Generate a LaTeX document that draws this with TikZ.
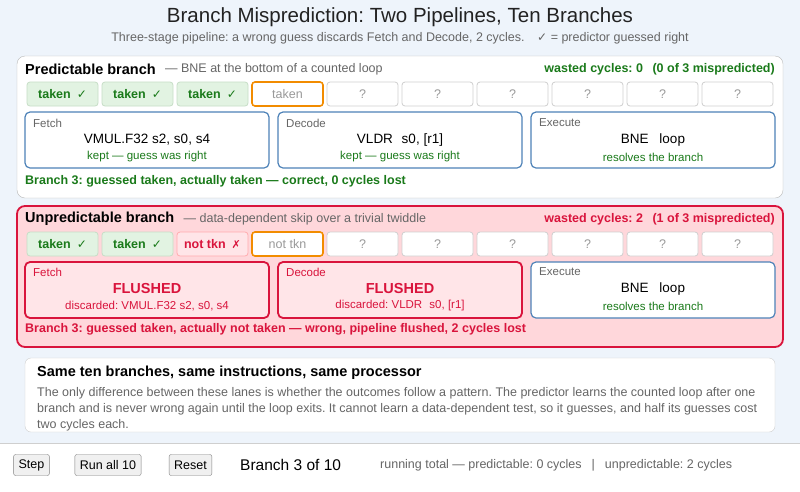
\documentclass[tikz,border=0pt]{standalone}
\usepackage{fontspec}
\setmainfont{Liberation Sans}
\newfontfamily\sym{DejaVu Sans}
\frenchspacing
\begin{document}
\definecolor{bg}{HTML}{EEF4FB}
\definecolor{okg}{HTML}{1A7A1A}
\definecolor{chipg}{HTML}{E2F3E2}
\definecolor{chipgb}{HTML}{C6DEC6}
\definecolor{grayb}{HTML}{CFCFCF}
\definecolor{panelb}{HTML}{B8B8B8}
\definecolor{grayt}{HTML}{999999}
\definecolor{orng}{HTML}{F28C00}
\definecolor{blueb}{HTML}{4D82B8}
\definecolor{redc}{HTML}{D9143C}
\definecolor{pinkp}{HTML}{FFD7DB}
\definecolor{pinkc}{HTML}{FFE5E8}
\definecolor{txt}{HTML}{222222}
\definecolor{sub}{HTML}{666666}
\def\fs#1{\fontsize{#1}{#1}\selectfont}
\def\ck{{\sym\fs{12}✓}}
\def\xk{{\sym\fs{11}✗}}
\begin{tikzpicture}[x=1pt,y=-1pt,
 chip/.style={draw=grayb,fill=white,rounded corners=3,minimum width=71,minimum height=24,inner sep=0,font=\fs{12.5},text=grayt,line width=0.8},
 gchip/.style={chip,draw=chipgb,fill=chipg,text=okg,font=\fs{12.5}\bfseries},
 rchip/.style={chip,draw=pinkp!80!red,fill=pinkc,text=redc,font=\fs{12.5}\bfseries},
 ochip/.style={chip,draw=orng,line width=1.6},
 stage/.style={draw=blueb,fill=white,rounded corners=5,minimum width=244,minimum height=56,inner sep=0,line width=1.2},
 fstage/.style={stage,draw=redc,fill=pinkc,line width=1.8},
 lab/.style={anchor=west,font=\fs{11.5},text=sub,inner sep=0},
 btn/.style={draw=gray,fill=black!6,rounded corners=2,minimum height=21,inner xsep=5,inner ysep=0,font=\fs{12.5}}]
\useasboundingbox (0,0) rectangle (800,491);
\fill[bg] (0,0) rectangle (800,491);
\fill[white] (0,443) rectangle (800,491);
\draw[grayb] (0,443) -- (800,443);
\node[font=\fs{20.5},text=txt] (title) at (400,17) {Branch Misprediction: Two Pipelines, Ten Branches};
\node[font=\fs{12.5},text=sub] (subt) at (400,38) {Three-stage pipeline: a wrong guess discards Fetch and Decode, 2 cycles.\quad \ck{} = predictor guessed right};
% panel 1
\draw[panelb,fill=white,rounded corners=8] (17,56) rectangle (783,198);
\node[anchor=west,inner sep=0,font=\fs{14.5}\bfseries,text=black] (h1) at (25,69) {Predictable branch};
\node[anchor=west,inner sep=0,font=\fs{12.5},text=sub] (h1b) at (h1.east) {\hspace{9pt}— BNE at the bottom of a counted loop};
\node[anchor=east,inner sep=0,font=\fs{12.5}\bfseries,text=okg] (w1) at (775,69) {wasted cycles: 0\hspace{6pt} (0 of 3 mispredicted)};
\foreach \i/\s/\t in {0/gchip/taken\hspace{6pt}\ck,1/gchip/taken\hspace{6pt}\ck,2/gchip/taken\hspace{6pt}\ck,3/ochip/taken,4/chip/?,5/chip/?,6/chip/?,7/chip/?,8/chip/?,9/chip/?}
  \node[\s] (a\i) at (62.5+75*\i,94) {\t};
\node[stage] (f1) at (147,140) {};
\node[stage] (d1) at (400,140) {};
\node[stage] (e1) at (653,140) {};
\node[lab] at (33,123) {Fetch};
\node[lab] at (286,123) {Decode};
\node[lab] at (539,123) {Execute};
\node[font=\fs{13.5}] at (147,140) {VMUL.F32 s2, s0, s4};
\node[font=\fs{13.5}] at (400,140) {VLDR\hspace{5pt} s0, [r1]};
\node[font=\fs{13.5}] at (653,140) {BNE\hspace{7pt} loop};
\node[font=\fs{11.5},text=okg] at (147,157) {kept — guess was right};
\node[font=\fs{11.5},text=okg] at (400,157) {kept — guess was right};
\node[font=\fs{11.5},text=okg] at (653,157) {resolves the branch};
\node[anchor=west,inner sep=0,font=\fs{12.5}\bfseries,text=okg] (s1) at (25,181) {Branch 3: guessed taken, actually taken — correct, 0 cycles lost};
% panel 2
\draw[redc,fill=pinkp,rounded corners=8,line width=1.8] (17,206) rectangle (783,347);
\node[anchor=west,inner sep=0,font=\fs{14.5}\bfseries,text=black] (h2) at (25,219) {Unpredictable branch};
\node[anchor=west,inner sep=0,font=\fs{12.5},text=sub] (h2b) at (h2.east) {\hspace{9pt}— data-dependent skip over a trivial twiddle};
\node[anchor=east,inner sep=0,font=\fs{12.5}\bfseries,text=redc] (w2) at (775,219) {wasted cycles: 2\hspace{6pt} (1 of 3 mispredicted)};
\foreach \i/\s/\t in {0/gchip/taken\hspace{6pt}\ck,1/gchip/taken\hspace{6pt}\ck,2/rchip/not tkn\hspace{6pt}{\mdseries\xk},3/ochip/not tkn,4/chip/?,5/chip/?,6/chip/?,7/chip/?,8/chip/?,9/chip/?}
  \node[\s] (b\i) at (62.5+75*\i,244) {\t};
\node[fstage] (f2) at (147,290) {};
\node[fstage] (d2) at (400,290) {};
\node[stage] (e2) at (653,290) {};
\node[lab,text=redc] at (33,272) {Fetch};
\node[lab,text=redc] at (286,272) {Decode};
\node[lab] at (539,272) {Execute};
\node[font=\fs{14.5}\bfseries,text=redc] at (147,289) {FLUSHED};
\node[font=\fs{14.5}\bfseries,text=redc] at (400,289) {FLUSHED};
\node[font=\fs{13.5}] at (653,289) {BNE\hspace{7pt} loop};
\node[font=\fs{11.5},text=redc] at (147,306) {discarded: VMUL.F32 s2, s0, s4};
\node[font=\fs{11.5},text=redc] at (400,306) {discarded: VLDR\hspace{4pt} s0, [r1]};
\node[font=\fs{11.5},text=okg] at (653,306) {resolves the branch};
\node[anchor=west,inner sep=0,font=\fs{12.5}\bfseries,text=redc] (s2) at (25,329) {Branch 3: guessed taken, actually not taken — wrong, pipeline flushed, 2 cycles lost};
% panel 3
\draw[grayb,fill=white,rounded corners=6] (25,358) rectangle (775,432);
\node[anchor=west,inner sep=0,font=\fs{14.5}\bfseries,text=black] (h3) at (37,373) {Same ten branches, same instructions, same processor};
\node[anchor=north west,inner sep=0,font=\fontsize{12.5}{16}\selectfont,text=sub,align=left] (p3) at (37,387) {The only difference between these lanes is whether the outcomes follow a pattern. The predictor learns the counted loop after one\\branch and is never wrong again until the loop exits. It cannot learn a data-dependent test, so it guesses, and half its guesses cost\\two cycles each.};
% bottom
\node[btn] (step) at (31.5,465) {Step};
\node[btn] (run) at (108,465) {Run all 10};
\node[btn] (reset) at (190.5,465) {Reset};
\node[anchor=west,inner sep=0,font=\fs{15.5},text=black] (br) at (240,465) {Branch 3 of 10};
\node[anchor=west,inner sep=0,font=\fs{12.5},text=sub] (rt) at (380,465) {running total — predictable: 0 cycles\hspace{10pt}|\hspace{10pt}unpredictable: 2 cycles};
\end{tikzpicture}
\end{document}
